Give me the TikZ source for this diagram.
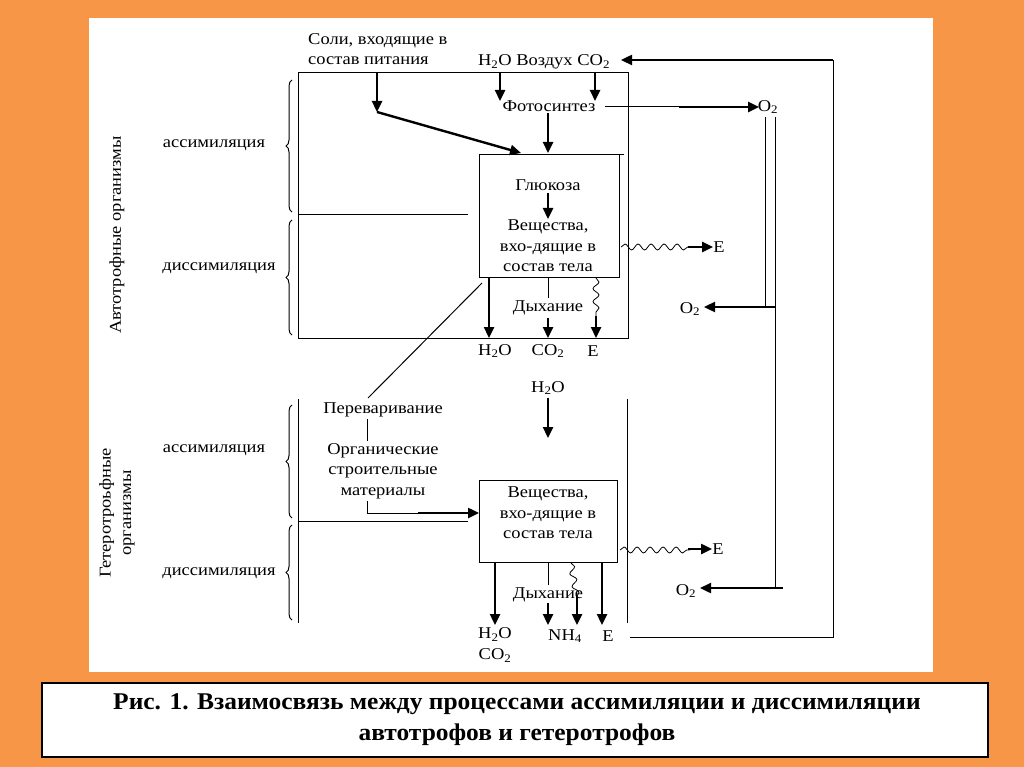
\documentclass[tikz,border=0pt]{standalone}
\usepackage{fontspec}
\setmainfont{Liberation Serif}
\newfontfamily\dfont{Liberation Serif}[FakeStretch=1.12]
\usetikzlibrary{arrows.meta,decorations.pathmorphing,decorations.pathreplacing}
\definecolor{bgorange}{RGB}{247,150,70}
\begin{document}
\begin{tikzpicture}[x=1pt,y=-1pt,
  txt/.style={font=\dfont\fontsize{16.5}{20.5}\selectfont, inner sep=0pt, align=center},
  ln/.style={line width=1pt},
  arr/.style={line width=2.4pt,-{Triangle[length=11pt,width=10pt]}},
  wave/.style={decorate, decoration={snake, amplitude=3pt, segment length=13pt}, line width=0.8pt},
  br/.style={decorate, decoration={brace, amplitude=6pt}, line width=1pt}]
\useasboundingbox (0,0) rectangle (1024,767);
\fill[bgorange] (0,0) rectangle (1024,767);
\fill[white] (89,18) rectangle (933,672);
\node[draw, line width=2.5pt, fill=white, minimum width=946pt, minimum height=74pt, inner sep=0pt] (cap) at (515,720) {};
\node[font=\bfseries\fontsize{24}{31}\selectfont, align=center] (captxt) at (517,720) {\scalebox{1.06}[1]{Рис. 1. Взаимосвязь между процессами ассимиляции и диссимиляции}\\\scalebox{1.06}[1]{автотрофов и гетеротрофов}};

% ---------- autotrophs ----------
\draw[ln] (298,73) rectangle (628,338);
\draw[ln] (298,215) -- (468,215);
\node[draw, line width=1pt, minimum width=140pt, minimum height=122pt, inner sep=0pt] (gbox) at (549,216) {};
\draw[ln] (gbox.north east) -- ++(4,0);
\draw[br] (292,212) -- (292,80);
\draw[br] (292,335) -- (292,220);
\node[txt] (as1) at (214,145) {ассимиляция};
\node[txt] (ds1) at (219,268) {диссимиляция};
\node[txt, rotate=90] (auto) at (117,235) {Автотрофные организмы};

\node[txt, align=left, anchor=north west] (soli) at (308,33) {Соли, входящие в\\состав питания};
\node[txt] (air) at (544,62) {H\textsubscript{2}O Воздух CO\textsubscript{2}};
\node[txt] (photo) at (549,106) {Фотосинтез};
\node[txt] (gluc) at (548,185) {Глюкоза};
\node[txt] (sub1) at (548,246) {Вещества,\\вхо-дящие в\\состав тела};
\node[txt] (dyh1) at (548,308) {Дыхание};
\node[txt] (h2o1) at (495,351) {H\textsubscript{2}O};
\node[txt] (co21) at (548,351) {CO\textsubscript{2}};
\node[txt] (e1) at (593,351) {E};
\node[txt] (o2a) at (768,107) {O\textsubscript{2}};
\node[txt] (o2b) at (690,309) {O\textsubscript{2}};
\node[txt] (ew1) at (719,247) {E};

\coordinate (s0) at (377,73);
\coordinate (s1) at (377,112);
\draw[arr] (s0) -- (s1);
\draw[arr] (s1) -- (521,153);
\draw[arr] (500,73) -- (500,101);
\draw[arr] (595,73) -- (595,101);
\draw[arr] (548,113) -- (548,153);
\draw[ln] (605,107) -- (680,107);
\draw[arr] (679,107) -- (759,107);
\draw[arr] (548,193) -- (548,219);
\draw[arr] (489,277) -- (489,338);
\draw[ln] (548,277) -- (548,298);
\draw[arr] (548,318) -- (548,338);
\draw[wave] (596,278) -- (596,318);
\draw[arr] (596,316) -- (596,338);
\draw[wave] (621,247) -- (690,247);
\draw[arr] (688,247) -- (713,247);
% O2 loop
\draw[arr] (833,60) -- (621,60);
\draw[ln] (833,60) -- (833,637) -- (630,637);
\draw[ln] (765,117) -- (765,307);
\draw[ln] (775,117) -- (775,588);
\draw[arr] (775,307) -- (704,307);
\draw[arr] (783,588) -- (700,588);

% ---------- heterotrophs ----------
\draw[ln] (298,399) -- (298,623);
\draw[ln] (627,399) -- (627,623);
\draw[ln] (298,521) -- (468,521);
\draw[br] (292,518) -- (292,405);
\draw[br] (292,620) -- (292,525);
\node[txt] (as2) at (214,450) {ассимиляция};
\node[txt] (ds2) at (219,573) {диссимиляция};
\node[txt, rotate=90] (hetero) at (117,513) {Гетеротроьфные\\организмы};

\node[txt] (perev) at (383,410) {Переваривание};
\node[txt] (org) at (383,471) {Органические\\строительные\\материалы};
\draw[ln] (482,283) -- (368,398);
\draw[ln] (367,419) -- (367,441);
\draw[ln] (367,501) -- (367,513) -- (420,513);
\draw[arr] (418,513) -- (479,513);

\node[txt] (h2o2) at (548,388) {H\textsubscript{2}O};
\draw[arr] (548,398) -- (548,438);
\node[draw, line width=1pt, minimum width=138pt, minimum height=82pt, inner sep=0pt] (sbox) at (548,521) {};
\node[txt] (sub2) at (548,513) {Вещества,\\вхо-дящие в\\состав тела};
\node[txt] (dyh2) at (548,595) {Дыхание};
\draw[arr] (495,562) -- (495,625);
\draw[ln] (548,562) -- (548,585);
\draw[arr] (548,603) -- (548,625);
\draw[wave] (571,563) -- (577,598);
\draw[arr] (577,596) -- (577,625);
\draw[arr] (602,562) -- (602,625);
\node[txt] (h2o3) at (495,645) {H\textsubscript{2}O\\CO\textsubscript{2}};
\node[txt] (nh4) at (565,636) {NH\textsubscript{4}};
\node[txt] (e2) at (608,636) {E};
\draw[wave] (620,550) -- (690,550);
\draw[arr] (688,549) -- (712,549);
\node[txt] (ew2) at (718,549) {E};
\node[txt] (o2c) at (686,591) {O\textsubscript{2}};
\end{tikzpicture}
\end{document}
